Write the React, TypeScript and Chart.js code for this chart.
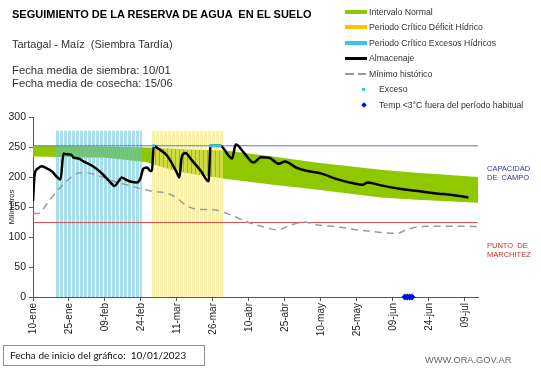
import React, { useEffect, useRef } from 'react';
import { Chart, registerables } from 'chart.js';

Chart.register(...registerables);

// ---------- DATA ----------
const tickLabels = ['10-ene', '25-ene', '09-feb', '24-feb', '11-mar', '26-mar', '10-abr', '25-abr', '10-may', '25-may', '09-jun', '24-jun', '09-jul'];
const tickStepDays = 15;
const lastDay = 185.5;

// Almacenaje (days since 10-ene, mm)
const almacenajeDays = [0, 0.7, 2, 3.5, 5, 8, 10, 11.5, 12.7, 14, 16, 17, 19, 21, 25, 29, 33, 34, 35.7, 37, 39, 41, 43.4, 44.8, 46, 47.5, 49, 49.6, 50.3, 52, 56, 60, 61, 62, 63.5, 66, 70, 73.2, 74, 75, 76, 77, 78, 83, 84.5, 88, 92, 95, 98.5, 102.5, 105, 110, 114.5, 120, 127, 134, 137.5, 139.6, 145, 153.5, 162, 169, 173, 181.5];
const almacenajeValues = [160, 205, 214, 218, 216, 209, 200, 196, 239, 238, 237, 232, 231, 226, 218, 205, 188, 185, 193, 199, 195, 192, 191, 198, 214, 216, 210, 210, 252, 248, 235, 207, 199, 233, 240, 229, 210, 193, 252, 252, 252, 252, 252, 231, 254, 240, 224, 233, 232, 222, 226, 215, 210, 206, 196, 189, 187, 191, 186, 180, 176, 172, 171, 166];

// Mínimo histórico
const minimoDays = [0, 2, 7, 14, 19.6, 22, 28, 33.5, 39, 44.6, 50, 55.7, 60, 64, 69.6, 74, 81, 89.4, 96, 102, 107.5, 113, 118.7, 127, 135, 144, 152, 155, 160.5, 167.5, 176, 181.5, 185.5];
const minimoValues = [139, 139, 162, 193, 207, 207, 201, 193, 187, 181, 176, 173, 165, 152, 146, 146, 139, 125, 117, 112, 120, 125, 120, 117, 112, 108, 106, 111, 117, 118, 118, 118, 117];

// Intervalo normal (upper / lower bounds)
const normalDays = [0, 30, 47, 55, 65, 80, 100, 118, 145, 160, 185.5];
const normalUpper = [252, 251, 249, 248, 246, 244, 234, 224, 212, 207, 200];
const normalLower = [234, 232, 225, 215, 206, 197, 187, 179, 166, 162, 157];

// Reference levels
const capacidadCampo = 252;
const puntoMarchitez = 124;

// Critical periods [startDay, endDay], bar height
const periodoExcesos = [9.5, 45.5];
const periodoDeficit = [49.5, 79.5];
const periodoAltura = 277;

// Exceso points
const excesoDays = [50.3, 74, 75, 76, 77, 78];
const excesoValues = [252, 252, 252, 252, 252, 252];

// Temp < 3°C out of usual period
const tempDays = [155, 156, 157, 158];
const tempValues = [0, 0, 0, 0];

// ---------- STYLE ----------
const FONT = "'Liberation Sans', Arial, sans-serif";
const GREEN = '#90c800';
const CYAN = '#33c6e8';
const YELLOW = '#ffc000';

function xy(days: number[], vals: number[]) {
  return days.map((d, i) => ({ x: d, y: vals[i] }));
}

function stripePattern(rgba: string): CanvasPattern | string {
  const c = document.createElement('canvas');
  c.width = 4;
  c.height = 1;
  const g = c.getContext('2d');
  if (!g) return rgba;
  g.fillStyle = rgba;
  g.fillRect(0, 0, 3, 1);
  const ctx = document.createElement('canvas').getContext('2d');
  const p = ctx ? ctx.createPattern(c, 'repeat') : null;
  return p || rgba;
}

function ChartCanvas() {
  const ref = useRef<HTMLCanvasElement | null>(null);
  useEffect(() => {
    if (!ref.current) return;
    const blueStripes = stripePattern('rgba(95,195,220,0.55)');
    const yellowStripes = stripePattern('rgba(250,232,110,0.6)');
    const chart = new Chart(ref.current, {
      type: 'line',
      data: {
        datasets: [
          {
            label: 'Temp',
            data: xy(tempDays, tempValues),
            showLine: false,
            pointStyle: 'rectRot',
            pointRadius: 3.5,
            backgroundColor: '#0010e0',
            borderColor: '#0010e0',
            borderWidth: 0,
            clip: false as any,
            order: 0,
          },
          {
            label: 'Exceso',
            data: xy(excesoDays, excesoValues),
            showLine: false,
            pointStyle: 'rect',
            pointRadius: 2,
            backgroundColor: CYAN,
            borderColor: CYAN,
            borderWidth: 0,
            order: 1,
          },
          {
            label: 'Almacenaje',
            data: xy(almacenajeDays, almacenajeValues),
            borderColor: '#000',
            borderWidth: 2.5,
            pointRadius: 0,
            cubicInterpolationMode: 'monotone',
            fill: false,
            order: 2,
          },
          {
            label: 'Mínimo histórico',
            data: xy(minimoDays, minimoValues),
            borderColor: '#9a9a9a',
            borderWidth: 1.5,
            borderDash: [7, 5],
            pointRadius: 0,
            cubicInterpolationMode: 'monotone',
            fill: false,
            order: 3,
          },
          {
            label: 'Capacidad',
            data: [{ x: 0, y: capacidadCampo }, { x: lastDay, y: capacidadCampo }],
            borderColor: '#5a78c8',
            borderWidth: 1,
            pointRadius: 0,
            fill: false,
            order: 4,
          },
          {
            label: 'Marchitez',
            data: [{ x: 0, y: puntoMarchitez }, { x: lastDay, y: puntoMarchitez }],
            borderColor: '#c8484a',
            borderWidth: 1,
            pointRadius: 0,
            fill: false,
            order: 5,
          },
          {
            label: 'Periodo Crítico Excesos Hídricos',
            data: [{ x: periodoExcesos[0], y: periodoAltura }, { x: periodoExcesos[1], y: periodoAltura }],
            borderWidth: 0,
            pointRadius: 0,
            backgroundColor: blueStripes as any,
            fill: 'origin',
            order: 6,
          },
          {
            label: 'Periodo Crítico Déficit Hídrico',
            data: [{ x: periodoDeficit[0], y: periodoAltura }, { x: periodoDeficit[1], y: periodoAltura }],
            borderWidth: 0,
            pointRadius: 0,
            backgroundColor: yellowStripes as any,
            fill: 'origin',
            order: 7,
          },
          {
            label: 'Intervalo Normal',
            data: xy(normalDays, normalUpper),
            borderWidth: 0,
            pointRadius: 0,
            backgroundColor: GREEN,
            fill: '+1',
            order: 8,
          },
          {
            label: 'Intervalo Normal (inf)',
            data: xy(normalDays, normalLower),
            borderWidth: 0,
            pointRadius: 0,
            fill: false,
            order: 9,
          },
        ],
      },
      options: {
        animation: false,
        responsive: false,
        maintainAspectRatio: false,
        layout: { padding: { left: 0, right: 63, top: 117, bottom: 31 } },
        plugins: { legend: { display: false }, tooltip: { enabled: false } },
        scales: {
          x: {
            type: 'linear',
            min: 0,
            max: lastDay,
            afterFit: (s: any) => { s.height = 40; },
            ticks: {
              stepSize: tickStepDays,
              includeBounds: false,
              autoSkip: false,
              maxRotation: 90,
              minRotation: 90,
              padding: 2,
              color: '#222',
              font: { family: FONT, size: 10 },
              callback: (v: any) => tickLabels[Math.round(Number(v) / tickStepDays)] ?? '',
            },
            grid: { drawOnChartArea: false, drawTicks: true, tickLength: 4, color: '#555' },
            border: { color: '#555', width: 1 },
          },
          y: {
            min: 0,
            max: 300,
            afterFit: (s: any) => { s.width = 33; },
            ticks: {
              stepSize: 50,
              padding: 3,
              color: '#222',
              font: { family: FONT, size: 10.5 },
            },
            grid: { drawOnChartArea: false, drawTicks: true, tickLength: 4, color: '#555' },
            border: { color: '#555', width: 1 },
            title: {
              display: true,
              text: 'Milímetros',
              color: '#222',
              padding: { top: 7, bottom: 0 },
              font: { family: FONT, size: 7.5 },
            },
          },
        },
      } as any,
    });
    return () => chart.destroy();
  }, []);
  return <canvas ref={ref} width={541} height={368} style={{ position: 'absolute', left: 0, top: 0, display: 'block' }} />;
}

const legendItems = [
  { text: 'Intervalo Normal', kind: 'bar', color: GREEN },
  { text: 'Periodo Crítico Déficit Hídrico', kind: 'bar', color: YELLOW },
  { text: 'Periodo Crítico Excesos Hídricos', kind: 'bar', color: CYAN },
  { text: 'Almacenaje', kind: 'line', color: '#000' },
  { text: 'Mínimo histórico', kind: 'dash', color: '#999' },
  { text: 'Exceso', kind: 'dot', color: CYAN },
  { text: 'Temp <3°C fuera del período habitual', kind: 'diamond', color: '#0010e0' },
];
const legendCenters = [11.7, 27.3, 43, 58.3, 73.5, 89.3, 105];

function Marker({ kind, color }: { kind: string; color: string }) {
  const wide = kind === 'dot' || kind === 'diamond';
  const box: React.CSSProperties = { position: 'relative', width: wide ? 33 : 23, height: 10, marginRight: 1 };
  let inner: React.ReactNode = null;
  if (kind === 'bar') inner = <div style={{ position: 'absolute', left: 0, top: 3, width: 22, height: 4, background: color }} />;
  if (kind === 'line') inner = <div style={{ position: 'absolute', left: 0, top: 4, width: 22, height: 2.5, background: color }} />;
  if (kind === 'dash') inner = (
    <>
      <div style={{ position: 'absolute', left: 0, top: 4.5, width: 9, height: 1.5, background: color }} />
      <div style={{ position: 'absolute', left: 13, top: 4.5, width: 8, height: 1.5, background: color }} />
    </>
  );
  if (kind === 'dot') inner = <div style={{ position: 'absolute', left: 17, top: 4, width: 2.5, height: 2.5, background: color }} />;
  if (kind === 'diamond') inner = <div style={{ position: 'absolute', left: 16.5, top: 3, width: 4, height: 4, background: color, transform: 'rotate(45deg)' }} />;
  return <div style={box}>{inner}</div>;
}

export default function App() {
  const t = (extra: React.CSSProperties): React.CSSProperties => ({
    position: 'absolute',
    fontFamily: FONT,
    whiteSpace: 'pre',
    color: '#222',
    ...extra,
  });
  return (
    <div style={{ position: 'fixed', left: 0, top: 0, width: 541, height: 368, background: '#fff', overflow: 'hidden' }}>
      <ChartCanvas />
      <div style={t({ left: 12, top: 8, fontSize: 11, lineHeight: '13px', fontWeight: 'bold', color: '#000' })}>
        SEGUIMIENTO DE LA RESERVA DE AGUA  EN EL SUELO
      </div>
      <div style={t({ left: 12, top: 38, fontSize: 11, lineHeight: '13px', color: '#333' })}>Tartagal - Maíz  (Siembra Tardía)</div>
      <div style={t({ left: 12, top: 64, fontSize: 11.3, lineHeight: '12.5px', color: '#333' })}>
        {'Fecha media de siembra: 10/01\nFecha media de cosecha: 15/06'}
      </div>
      {legendItems.map((it, i) => (
        <div key={i} style={{ position: 'absolute', left: 345, top: legendCenters[i] - 6, height: 12, display: 'flex', alignItems: 'center' }}>
          <Marker kind={it.kind} color={it.color} />
          <span style={{ fontFamily: FONT, fontSize: 8.7, color: '#333', whiteSpace: 'pre', lineHeight: '12px' }}>{it.text}</span>
        </div>
      ))}
      <div style={t({ left: 487, top: 165, fontSize: 7.5, lineHeight: '8.5px', color: '#3333a0' })}>{'CAPACIDAD\nDE  CAMPO'}</div>
      <div style={t({ left: 487, top: 242, fontSize: 7.5, lineHeight: '8.5px', color: '#c03030' })}>{'PUNTO  DE\nMARCHITEZ'}</div>
      <div style={{ position: 'absolute', left: 3, top: 345, width: 202, height: 21, border: '1px solid #9a8c8c', boxSizing: 'border-box' }} />
      <div style={t({ left: 10, top: 349, fontSize: 10, lineHeight: '13px', fontFamily: "Lato, 'Open Sans', sans-serif", color: '#111' })}>
        Fecha de inicio del gráfico:  10/01/2023
      </div>
      <div style={t({ left: 425, top: 355, fontSize: 9.3, lineHeight: '11px', color: '#666' })}>WWW.ORA.GOV.AR</div>
    </div>
  );
}
